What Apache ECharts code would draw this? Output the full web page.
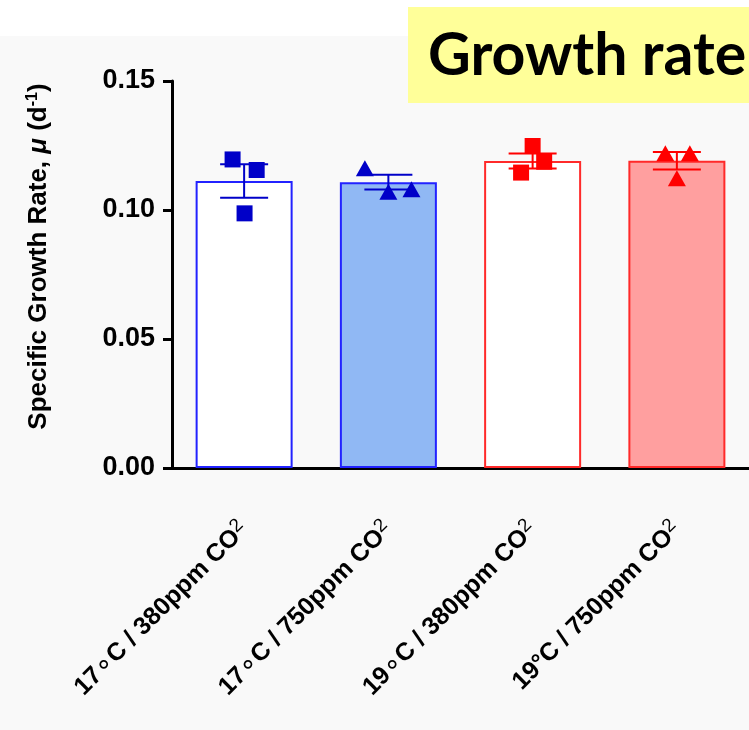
<!DOCTYPE html>
<html>
<head>
<meta charset="utf-8">
<script src="https://cdn.jsdelivr.net/npm/echarts@6/dist/echarts.min.js"></script>
<style>
  html, body { margin: 0; padding: 0; background: #ffffff; }
  #chart { width: 749px; height: 730px; }
</style>
</head>
<body>
<div id="chart"></div>
<script>
// ---- data ----
const categories = ['17∘C / 380ppm CO2', '17∘C / 750ppm CO2', '19∘C / 380ppm CO2', '19°C / 750ppm CO2'];
const means = [0.1112, 0.1108, 0.1190, 0.1191];
const sems = [0.0065, 0.0029, 0.0029, 0.0034];
const points17c380 = [0.1196, 0.1155, 0.0987];
const points17c750 = [0.1162, 0.1071, 0.1080];
const points19c380 = [0.1248, 0.1187, 0.1145];
const points19c750 = [0.1220, 0.1220, 0.1123];
const jitter17c380 = [-0.08, 0.087, 0.003];
const jitter17c750 = [-0.163, 0.0, 0.16];
const jitter19c380 = [0.0, 0.08, -0.08];
const jitter19c750 = [-0.08, 0.09, 0.0];

const blueLine = '#2222ff', blueMark = '#0000c8', blueFill = '#90b8f4';
const redLine = '#ff2a2a', redMark = '#ff0000', redFill = '#ff9f9f';

const barStyles = [
  { color: '#ffffff', borderColor: blueLine, borderWidth: 2 },
  { color: blueFill, borderColor: blueLine, borderWidth: 2 },
  { color: '#ffffff', borderColor: redLine, borderWidth: 2 },
  { color: redFill, borderColor: redLine, borderWidth: 2 }
];
const markColors = [blueMark, blueMark, redMark, redMark];

function pts(vals, jit, idx) {
  return vals.map((v, k) => [idx + 0.5 + jit[k], v]);
}

const chart = echarts.init(document.getElementById('chart'), null, { renderer: 'canvas' });

const option = {
  backgroundColor: '#ffffff',
  animation: false,
  graphic: [
    { type: 'rect', z: -10, silent: true, shape: { x: 0, y: 36, width: 749, height: 694 }, style: { fill: '#f9f9f9' } },
    { type: 'rect', z: 10, shape: { x: 408, y: 7, width: 360, height: 96 }, style: { fill: '#ffff99' } },
    { type: 'text', z: 11, x: 428, y: 56, style: { text: 'Growth rate', font: 'bold 59px Lato', fill: '#000000', verticalAlign: 'middle', align: 'left' } }
  ],
  grid: { left: 172, right: 0, top: 81, bottom: 262, containLabel: false },
  xAxis: [
    {
      type: 'category',
      data: categories,
      axisLine: { show: true, lineStyle: { color: '#000', width: 3 } },
      axisTick: { show: false },
      splitLine: { show: false },
      axisLabel: {
        rotate: 45,
        margin: 58,
        interval: 0,
        formatter: function (v) {
          let s = '{b|' + v + '}';
          s = s.replace('∘', '}{c|∘}{b|');
          s = s.replace(/CO2\}$/, 'CO}{s|2}');
          return s;
        },
        rich: {
          b: { fontFamily: 'Liberation Sans', fontWeight: 'bold', fontSize: 25, color: '#000', lineHeight: 30 },
          c: { fontFamily: 'DejaVu Sans', fontWeight: 'normal', fontSize: 28, color: '#000', lineHeight: 30 },
          s: { fontFamily: 'Liberation Sans', fontWeight: 'normal', fontSize: 19, color: '#000', verticalAlign: 'top', padding: [0, 0, 11, 0] }
        }
      }
    },
    { type: 'value', min: 0, max: 4, show: false }
  ],
  yAxis: {
    type: 'value',
    min: 0,
    max: 0.15,
    interval: 0.05,
    axisLine: { show: true, lineStyle: { color: '#000', width: 3 } },
    axisTick: { show: true, length: 9, lineStyle: { color: '#000', width: 3 } },
    splitLine: { show: false },
    axisLabel: {
      margin: 17,
      fontFamily: 'Liberation Sans',
      fontWeight: 'bold',
      fontSize: 27,
      color: '#000',
      formatter: v => v.toFixed(2)
    },
    name: '{a|Specific Growth Rate, }{i|μ}{a| (d}{s|-1}{a|)}',
    nameLocation: 'middle',
    nameGap: 119,
    nameRotate: 90,
    nameTextStyle: {
      padding: [0, 0, 0, 36],
      rich: {
        a: { fontFamily: 'Liberation Sans', fontWeight: 'bold', fontSize: 26, color: '#000' },
        i: { fontFamily: 'Liberation Sans', fontWeight: 'bold', fontStyle: 'italic', fontSize: 26, color: '#000' },
        s: { fontFamily: 'Liberation Sans', fontWeight: 'bold', fontSize: 16, color: '#000', verticalAlign: 'top', padding: [0, 0, 12, 0] }
      }
    }
  },
  series: [
    {
      type: 'bar',
      xAxisIndex: 0,
      barWidth: 97,
      data: means.map((m, i) => ({ value: m, itemStyle: barStyles[i] })),
      z: 2
    },
    {
      type: 'custom',
      xAxisIndex: 1,
      z: 3,
      data: means.map((m, i) => [i + 0.5, m - sems[i], m + sems[i], i]),
      renderItem: function (params, api) {
        const x = api.value(0);
        const lo = api.coord([x, api.value(1)]);
        const hi = api.coord([x, api.value(2)]);
        const c = markColors[api.value(3)];
        const hw = 24;
        const st = { stroke: c, lineWidth: 2 };
        return {
          type: 'group',
          children: [
            { type: 'line', shape: { x1: lo[0], y1: lo[1], x2: hi[0], y2: hi[1] }, style: st },
            { type: 'line', shape: { x1: hi[0] - hw, y1: hi[1], x2: hi[0] + hw, y2: hi[1] }, style: st },
            { type: 'line', shape: { x1: lo[0] - hw, y1: lo[1], x2: lo[0] + hw, y2: lo[1] }, style: st }
          ]
        };
      }
    },
    { type: 'scatter', xAxisIndex: 1, z: 4, symbol: 'rect', symbolSize: 16, itemStyle: { color: blueMark, opacity: 1 }, data: pts(points17c380, jitter17c380, 0) },
    { type: 'scatter', xAxisIndex: 1, z: 4, symbol: 'triangle', symbolSize: [18, 16], itemStyle: { color: blueMark, opacity: 1 }, data: pts(points17c750, jitter17c750, 1) },
    { type: 'scatter', xAxisIndex: 1, z: 4, symbol: 'rect', symbolSize: 16, itemStyle: { color: redMark, opacity: 1 }, data: pts(points19c380, jitter19c380, 2) },
    { type: 'scatter', xAxisIndex: 1, z: 4, symbol: 'triangle', symbolSize: [18, 16], itemStyle: { color: redMark, opacity: 1 }, data: pts(points19c750, jitter19c750, 3) }
  ]
};
chart.setOption(option);
</script>
</body>
</html>
